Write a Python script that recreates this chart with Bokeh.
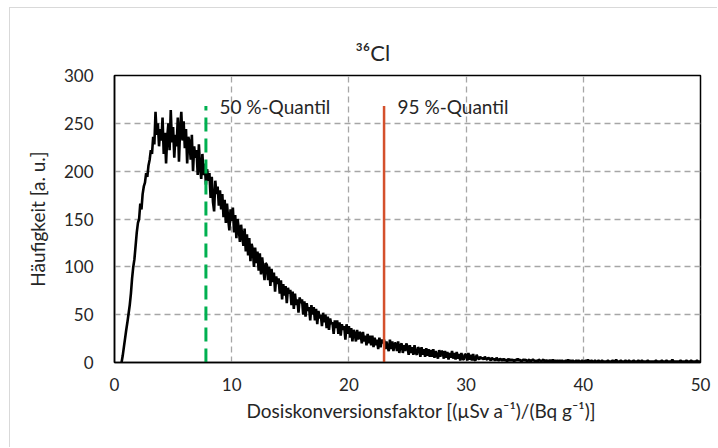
from bokeh.plotting import figure
from bokeh.models import Label, Range1d, Title
from bokeh.embed import file_html
from bokeh.resources import INLINE

# Histogram of the dose conversion factor for Cl-36 (bin width 0.1, first bin at 0.6)
BIN_START = 0.6
BIN_WIDTH = 0.1
counts = [
    0, 7, 16, 25,
    34, 42, 51, 60, 72, 88, 100, 108, 122, 136,
    146, 150, 166, 160, 176, 184, 188, 198, 194, 206,
    212, 222, 218, 236, 228, 262, 238, 250, 226, 244,
    232, 256, 218, 240, 208, 236, 250, 222, 264, 230,
    246, 214, 238, 226, 256, 210, 244, 262, 232, 252,
    224, 244, 208, 236, 230, 212, 238, 200, 226, 214,
    222, 196, 228, 204, 192, 218, 196, 208, 186, 202,
    190, 198, 172, 194, 168, 158, 190, 176, 184, 164,
    180, 160, 176, 152, 170, 146, 166, 150, 138, 160,
    148, 162, 136, 154, 130, 150, 140, 126, 144, 132,
    122, 140, 116, 134, 112, 130, 106, 124, 118, 100,
    120, 104, 116, 96, 114, 92, 110, 98, 86, 104,
    102, 86, 100, 80, 98, 84, 94, 74, 90, 82,
    88, 72, 86, 66, 82, 70, 80, 62, 78, 72,
    76, 60, 74, 56, 72, 60, 66, 52, 68, 62,
    66, 50, 64, 48, 62, 54, 58, 44, 60, 50,
    58, 44, 56, 40, 54, 46, 50, 38, 52, 42,
    50, 36, 48, 34, 46, 40, 42, 30, 44, 36,
    44, 30, 42, 28, 40, 34, 38, 24, 40, 30,
    38, 26, 36, 22, 34, 30, 22, 34, 24, 32,
    30, 20, 32, 22, 28, 18, 30, 20, 28, 18,
    28, 16, 26, 18, 24, 14, 26, 16, 24, 20,
    24, 14, 22, 16, 12, 24, 14, 22, 12, 20,
    20, 12, 22, 10, 18, 20, 10, 18, 12, 20,
    16, 8, 18, 10, 16, 8, 18, 10, 8, 16,
    14, 6, 16, 8, 14, 6, 15, 7, 14, 6,
    13, 6, 14, 5, 12, 8, 4, 13, 6, 12,
    11, 4, 12, 5, 11, 3, 10, 5, 12, 4,
    10, 3, 11, 4, 9, 2, 10, 4, 3, 9,
    8, 2, 10, 3, 8, 2, 9, 3, 2, 8,
    5, 3, 6, 4, 5, 3, 6, 4, 3, 5,
    4, 2, 5, 3, 4, 2, 5, 3, 2, 4,
    3, 2, 4, 2, 3, 1, 4, 2, 3, 2,
    3, 1, 3, 2, 4, 2, 3, 1, 2, 3,
    2, 3, 1, 2, 3, 1, 2, 3, 2, 1,
    2, 1, 3, 2, 1, 2, 3, 1, 2, 2,
    1, 2, 2, 1, 3, 1, 2, 1, 2, 1,
    2, 1, 2, 1, 1, 2, 1, 3, 1, 2,
    1, 2, 1, 1, 2, 1, 2, 1, 1, 2,
    1, 1, 2, 1, 3, 1, 1, 2, 1, 1,
    2, 1, 1, 2, 1, 1, 2, 1, 1, 1,
    1, 2, 1, 1, 1, 2, 1, 1, 3, 1,
    1, 1, 2, 1, 1, 1, 2, 1, 1, 2,
    1, 1, 1, 2, 1, 1, 1, 2, 1, 1,
    2, 1, 1, 1, 1, 2, 1, 1, 1, 1,
    1, 1, 2, 1, 1, 1, 1, 2, 1, 1,
    1, 2, 1, 1, 1, 1, 3, 1, 1, 1,
    1, 1, 1, 2, 1, 1, 1, 1, 2, 1,
    1, 1, 2, 1, 1, 1, 1, 2, 1, 1,
    1,
]
dose_factor = [round(BIN_START + i * BIN_WIDTH, 2) for i in range(len(counts))]

# Quantiles of the distribution
q50 = 7.8
q95 = 23.0
quantile_line_top = 268
quantile_labels = ["50 %-Quantil", "95 %-Quantil"]

x_ticks = [0, 10, 20, 30, 40, 50]
y_ticks = [0, 50, 100, 150, 200, 250, 300]

FONT = "Lato"
TEXT = "#262626"
LABEL_SIZE = "19px"
TICK_SIZE = "17px"

p = figure(
    width=708, height=440,
    x_range=Range1d(0, 50), y_range=Range1d(0, 300),
    output_backend="svg", toolbar_location=None,
    min_border_left=104, min_border_right=18,
    min_border_top=67, min_border_bottom=86,
)
p.margin = (7, 0, 0, 9)
p.styles = {"border-left": "1px solid #d9d9d9", "border-top": "1px solid #d9d9d9"}

p.outline_line_color = "black"
p.outline_line_width = 1.5
p.background_fill_color = "white"
p.border_fill_color = "white"

# Title: nuclide symbol
p.title.text = "³⁶Cl"
p.title.align = "left"
p.title.offset = 241
p.title.standoff = 20
p.title.text_font = FONT
p.title.text_font_size = "22px"
p.title.text_font_style = "normal"
p.title.text_color = TEXT

for ax in (p.xaxis[0], p.yaxis[0]):
    ax.axis_line_color = "black"
    ax.axis_line_width = 1.5
    ax.major_tick_line_color = None
    ax.minor_tick_line_color = None
    ax.major_label_text_font = FONT
    ax.major_label_text_font_size = TICK_SIZE
    ax.major_label_text_color = TEXT
    ax.axis_label_text_font = FONT
    ax.axis_label_text_font_size = LABEL_SIZE
    ax.axis_label_text_font_style = "normal"
    ax.axis_label_text_color = TEXT

p.xaxis.ticker = x_ticks
p.yaxis.ticker = y_ticks
p.xaxis.major_label_standoff = 9
p.yaxis.major_label_standoff = 15

p.yaxis.axis_label = "Häufigkeit [a. u.]"
p.yaxis.axis_label_standoff = 12

# x-axis caption, placed as a left-aligned title below the axis
p.add_layout(Title(text="Dosiskonversionsfaktor [(µSv a⁻¹)/(Bq g⁻¹)]",
                   align="left", offset=132, standoff=6,
                   text_font=FONT, text_font_size=LABEL_SIZE,
                   text_font_style="normal", text_color=TEXT), "below")

p.xgrid.ticker = x_ticks
p.ygrid.ticker = y_ticks
for g in (p.xgrid[0], p.ygrid[0]):
    g.grid_line_color = "#a6a6a6"
    g.grid_line_dash = "6 4"
    g.grid_line_width = 1.3

# Distribution curve
p.line(dose_factor, counts, line_color="black", line_width=2.6)

# Quantile markers
p.segment(x0=[q50], y0=[0], x1=[q50], y1=[quantile_line_top],
          line_color="#00b050", line_width=3, line_dash="14 7")
p.segment(x0=[q95], y0=[0], x1=[q95], y1=[quantile_line_top],
          line_color="#d4502c", line_width=2.5)

for qx, txt in zip([q50, q95], quantile_labels):
    p.add_layout(Label(x=qx + 1.15, y=quantile_line_top, text=txt,
                       text_font=FONT, text_font_size=LABEL_SIZE, text_color=TEXT,
                       text_baseline="middle"))

open("out.html", "w").write(file_html(p, INLINE))
